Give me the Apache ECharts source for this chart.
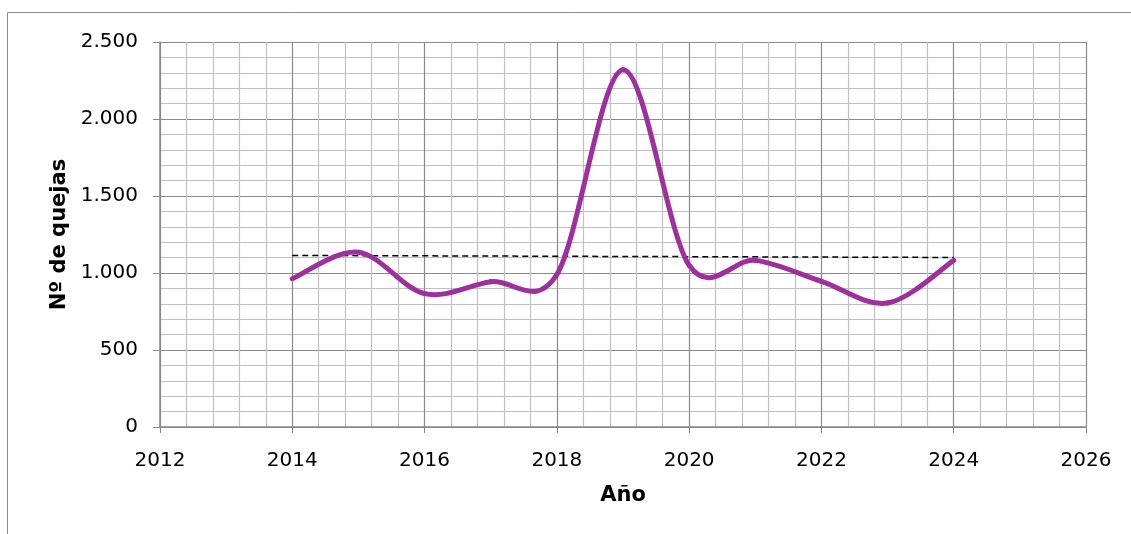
<!DOCTYPE html>
<html><head><meta charset="utf-8">
<script src="https://cdn.jsdelivr.net/npm/echarts@6/dist/echarts.min.js"></script>
<style>html,body{margin:0;padding:0;background:#fff}#c{width:1131px;height:534px}</style>
</head><body><div id="c"></div>
<script>
const years = [2014, 2015, 2016, 2017, 2018, 2019, 2020, 2021, 2022, 2023, 2024];
const quejas = [963, 1135, 866, 943, 990, 2320, 1050, 1082, 946, 805, 1082];
const xTicks = [2012, 2014, 2016, 2018, 2020, 2022, 2024, 2026];
const yTicks = [0, 500, 1000, 1500, 2000, 2500];

// linear trend (least squares) from the data
const n = years.length;
const mx = years.reduce((a, b) => a + b, 0) / n;
const my = quejas.reduce((a, b) => a + b, 0) / n;
let sxy = 0, sxx = 0;
years.forEach((x, i) => { sxy += (x - mx) * (quejas[i] - my); sxx += (x - mx) * (x - mx); });
const slope = sxy / sxx;
const trend = [years[0], years[n - 1]].map(x => [x, my + slope * (x - mx)]);

const points = years.map((y, i) => [y, quejas[i]]);
const LINE_COLOR = '#9e2f9c';

// smoothed line (Catmull-Rom style Bezier segments, as in spreadsheet "smoothed line")
function renderSegment(params, api) {
  const i = params.dataIndex;
  if (i >= points.length - 1) return null;
  const P = k => api.coord(points[Math.max(0, Math.min(points.length - 1, k))]);
  const p0 = P(i - 1), p1 = P(i), p2 = P(i + 1), p3 = P(i + 2);
  return {
    type: 'bezierCurve',
    shape: {
      x1: p1[0], y1: p1[1], x2: p2[0], y2: p2[1],
      cpx1: p1[0] + (p2[0] - p0[0]) / 6, cpy1: p1[1] + (p2[1] - p0[1]) / 6,
      cpx2: p2[0] - (p3[0] - p1[0]) / 6, cpy2: p2[1] - (p3[1] - p1[1]) / 6
    },
    style: { stroke: LINE_COLOR, lineWidth: 5, fill: null, lineCap: 'round' }
  };
}

const font = 'DejaVu Sans';
const chart = echarts.init(document.getElementById('c'));
chart.setOption({
  animation: false,
  graphic: [{ type: 'rect', shape: { x: 7.5, y: 12.5, width: 1200, height: 600 },
    style: { fill: 'none', stroke: '#8c8c8c', lineWidth: 1 }, silent: true }],
  grid: { left: 160, right: 45, top: 42, bottom: 107 },
  xAxis: {
    type: 'value', min: xTicks[0], max: xTicks[xTicks.length - 1], interval: 2,
    name: 'Año', nameLocation: 'middle', nameGap: 58,
    nameTextStyle: { fontFamily: font, fontWeight: 'bold', fontSize: 21, color: '#000' },
    axisLine: { show: true, onZero: false, lineStyle: { color: '#888', width: 1.5 } },
    axisTick: { show: true, length: 6, lineStyle: { color: '#888' } },
    axisLabel: { fontFamily: font, fontSize: 20, color: '#000', margin: 24, formatter: v => String(v) },
    splitLine: { show: true, lineStyle: { color: '#8a8a8a', width: 1.2 } },
    minorTick: { show: true, splitNumber: 5, length: 0 },
    minorSplitLine: { show: true, lineStyle: { color: '#c0c0c0', width: 1.2 } }
  },
  yAxis: {
    type: 'value', min: yTicks[0], max: yTicks[yTicks.length - 1], interval: 500,
    name: 'Nº de quejas', nameLocation: 'middle', nameGap: 87, nameRotate: 90,
    nameTextStyle: { fontFamily: font, fontWeight: 'bold', fontSize: 21, color: '#000' },
    axisLine: { show: true, lineStyle: { color: '#888', width: 1.5 } },
    axisTick: { show: true, length: 7, lineStyle: { color: '#888' } },
    axisLabel: { fontFamily: font, fontSize: 20, color: '#000', margin: 22,
      formatter: v => String(v).replace(/\B(?=(\d{3})+(?!\d))/g, '.') },
    splitLine: { show: true, lineStyle: { color: '#8a8a8a', width: 1.2 } },
    minorTick: { show: true, splitNumber: 5, length: 0 },
    minorSplitLine: { show: true, lineStyle: { color: '#c0c0c0', width: 1.2 } }
  },
  series: [
    { type: 'line', data: trend, symbol: 'none', z: 3,
      lineStyle: { color: '#000', width: 1.5, type: [6, 4] } },
    { type: 'custom', data: points, renderItem: renderSegment, z: 4,
      encode: { x: 0, y: 1 } }
  ]
});
</script></body></html>
